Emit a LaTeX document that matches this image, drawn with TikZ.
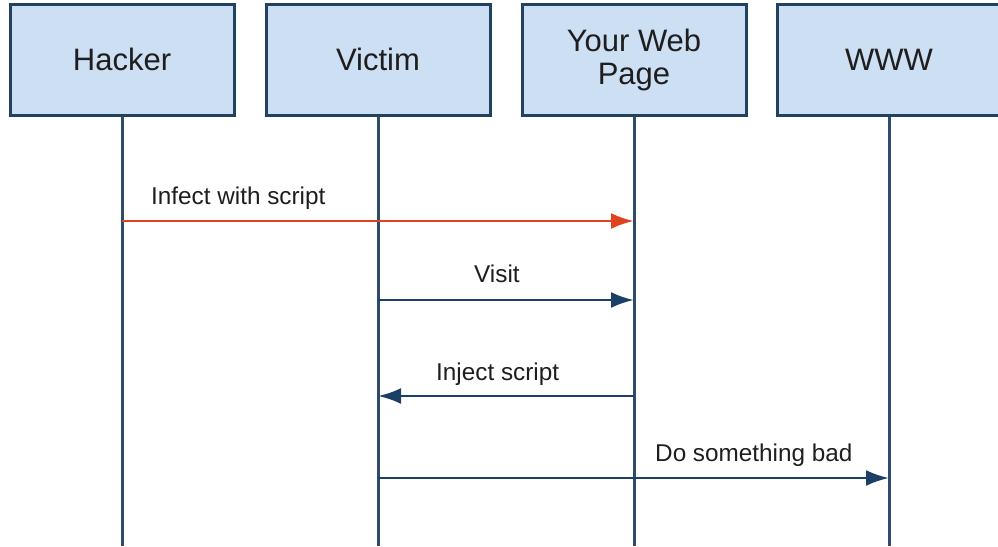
\documentclass[tikz,border=0pt]{standalone}
\usepackage{fontspec}
\setmainfont{Liberation Sans}
\usetikzlibrary{arrows.meta}
\definecolor{boxfill}{HTML}{CDDFF3}
\definecolor{boxline}{HTML}{22405F}
\definecolor{lifecol}{HTML}{2E4B6C}
\definecolor{arrblue}{HTML}{1B3F66}
\definecolor{arrred}{HTML}{E2431F}
\definecolor{txt}{HTML}{1E1E1E}
\tikzset{
  actor/.style={draw=boxline, line width=3pt, fill=boxfill, minimum width=224pt, minimum height=111pt,
    inner sep=0pt, align=center, font=\fontsize{31}{33}\selectfont, text=txt},
  lifeline/.style={draw=lifecol, line width=3pt},
  msg/.style={line width=2.8pt, draw=arrblue, -{Latex[length=23pt,width=16pt]}},
  badmsg/.style={msg, draw=arrred},
  lbl/.style={anchor=base west, inner sep=0pt, font=\fontsize{24.3}{27}\selectfont, text=txt}
}
\begin{document}
\begin{tikzpicture}[x=1pt,y=-1pt]
\useasboundingbox (0,0) rectangle (998,546);
\coordinate (hb) at (122,546);
\coordinate (vb) at (378,546);
\coordinate (pb) at (634,546);
\coordinate (wb) at (889,546);
\node[actor] (hacker) at (122,59.5) {Hacker};
\node[actor] (victim) at (378,59.5) {Victim};
\node[actor] (web) at (634,59.5) {Your Web\\Page};
\node[actor] (www) at (889,59.5) {WWW};
\draw[lifeline] (hacker.south) -- (hb);
\draw[lifeline] (victim.south) -- (vb);
\draw[lifeline] (web.south) -- (pb);
\draw[lifeline] (www.south) -- (wb);
% message levels
\coordinate (m1) at (0,221);
\coordinate (m2) at (0,300);
\coordinate (m3) at (0,396);
\coordinate (m4) at (0,478);
\draw[badmsg] (hacker.south |- m1) -- (web.south |- m1);
\draw[msg] (victim.south |- m2) -- (web.south |- m2);
\draw[msg] (web.south |- m3) -- (victim.south |- m3);
\draw[msg] (victim.south |- m4) -- (www.south |- m4);
% labels
\node[lbl] (l1) at (151,204) {Infect with script};
\node[lbl] (l2) at (474,282) {Visit};
\node[lbl] (l3) at (436,380) {Inject script};
\node[lbl] (l4) at (655,461) {Do something bad};
\end{tikzpicture}
\end{document}
